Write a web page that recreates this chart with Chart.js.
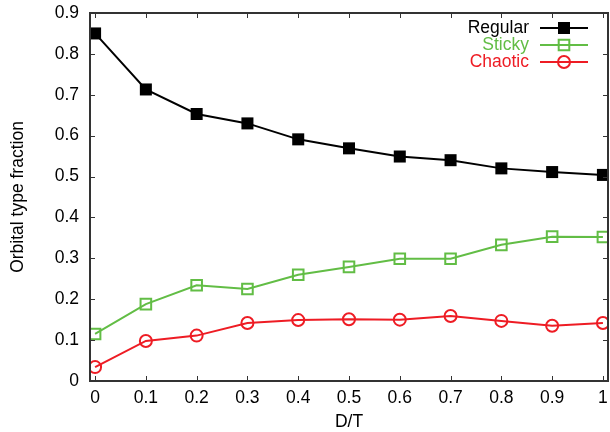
<!DOCTYPE html>
<html>
<head>
<meta charset="utf-8">
<script src="https://cdn.jsdelivr.net/npm/chart.js@4"></script>
<style>
  html, body { margin: 0; padding: 0; background: #fff; }
  #wrap { width: 610px; height: 432px; }
</style>
</head>
<body>
<div id="wrap"><canvas id="chart"></canvas></div>
<script>
// values
const dtValues = [0, 0.1, 0.2, 0.3, 0.4, 0.5, 0.6, 0.7, 0.8, 0.9, 1];
const regular = [0.850, 0.713, 0.653, 0.630, 0.591, 0.569, 0.549, 0.540, 0.520, 0.511, 0.504];
const sticky  = [0.115, 0.188, 0.234, 0.225, 0.260, 0.279, 0.299, 0.299, 0.333, 0.353, 0.352];
const chaotic = [0.034, 0.098, 0.111, 0.142, 0.149, 0.151, 0.150, 0.159, 0.147, 0.135, 0.142];
const xTicks = [0, 0.1, 0.2, 0.3, 0.4, 0.5, 0.6, 0.7, 0.8, 0.9, 1];
const yTicks = [0, 0.1, 0.2, 0.3, 0.4, 0.5, 0.6, 0.7, 0.8, 0.9];

const FONT = "'Liberation Sans', Arial, sans-serif";
const FSIZE = 17.5;
const frameColor = '#333333';

function toPoints(ys) {
  return dtValues.map((x, i) => ({ x: x, y: ys[i] }));
}

// drop the extra room chart.js keeps for edge tick labels
function noEdgePadding(s) {
  s.paddingTop = 0; s.paddingBottom = 0;
  s.paddingLeft = 0; s.paddingRight = 0;
}

// gnuplot style: inward ticks on all four sides + closed frame
const frameTicks = {
  id: 'frameTicks',
  afterDraw(chart) {
    const { ctx, chartArea: a, scales } = chart;
    const len = 5;
    ctx.save();
    ctx.strokeStyle = frameColor;
    ctx.lineWidth = 1;
    ctx.beginPath();
    xTicks.forEach(v => {
      const px = Math.round(scales.x.getPixelForValue(v)) + 0.5;
      ctx.moveTo(px, a.bottom); ctx.lineTo(px, a.bottom - len);
      ctx.moveTo(px, a.top); ctx.lineTo(px, a.top + len);
    });
    yTicks.forEach(v => {
      const py = Math.round(scales.y.getPixelForValue(v)) + 0.5;
      ctx.moveTo(a.left, py); ctx.lineTo(a.left + len, py);
      ctx.moveTo(a.right, py); ctx.lineTo(a.right - len, py);
    });
    ctx.stroke();
    ctx.lineWidth = 2;
    ctx.strokeRect(a.left, a.top, a.right - a.left, a.bottom - a.top);
    ctx.restore();
  }
};

// legend in the top right corner: right-aligned text, then line sample with marker
const keyBox = {
  id: 'keyBox',
  afterDraw(chart) {
    const ctx = chart.ctx;
    const textRight = 529;
    const lineStart = 540, lineEnd = 588;
    let y = 28;
    ctx.save();
    ctx.font = FSIZE + 'px ' + FONT;
    ctx.textAlign = 'right';
    ctx.textBaseline = 'middle';
    chart.data.datasets.forEach(ds => {
      ctx.fillStyle = ds.borderColor;
      ctx.fillText(ds.label, textRight, y);
      ctx.strokeStyle = ds.borderColor;
      ctx.lineWidth = 2;
      ctx.beginPath();
      ctx.moveTo(lineStart, y);
      ctx.lineTo(lineEnd, y);
      ctx.stroke();
      ctx.fillStyle = ds.pointBackgroundColor;
      Chart.helpers.drawPoint(ctx, {
        pointStyle: ds.pointStyle,
        radius: ds.pointRadius,
        borderWidth: ds.pointBorderWidth,
        rotation: 0
      }, (lineStart + lineEnd) / 2, y);
      y += 17;
    });
    ctx.restore();
  }
};

new Chart(document.getElementById('chart'), {
  type: 'line',
  data: {
    datasets: [
      {
        label: 'Regular',
        data: toPoints(regular),
        borderColor: '#000000',
        borderWidth: 2,
        pointStyle: 'rect',
        pointRadius: 8.5,
        pointBorderWidth: 0,
        pointBackgroundColor: '#000000',
        pointBorderColor: '#000000'
      },
      {
        label: 'Sticky',
        data: toPoints(sticky),
        borderColor: '#62bd45',
        borderWidth: 2,
        pointStyle: 'rect',
        pointRadius: 7.5,
        pointBorderWidth: 2,
        pointBackgroundColor: 'rgba(0,0,0,0)',
        pointBorderColor: '#62bd45'
      },
      {
        label: 'Chaotic',
        data: toPoints(chaotic),
        borderColor: '#ee1c24',
        borderWidth: 2,
        pointStyle: 'circle',
        pointRadius: 6,
        pointBorderWidth: 2,
        pointBackgroundColor: 'rgba(0,0,0,0)',
        pointBorderColor: '#ee1c24'
      }
    ]
  },
  options: {
    responsive: true,
    maintainAspectRatio: false,
    animation: false,
    layout: { autoPadding: false, padding: { top: 13, right: 2, left: 0, bottom: 0 } },
    plugins: {
      legend: { display: false },
      tooltip: { enabled: false }
    },
    scales: {
      x: {
        type: 'linear',
        min: -0.01,
        max: 1.01,
        afterBuildTicks: s => { s.ticks = xTicks.map(v => ({ value: v })); },
        afterFit: s => { s.height = 51; noEdgePadding(s); },
        grid: { display: false, drawTicks: false },
        border: { display: false },
        ticks: {
          color: '#000',
          font: { family: FONT, size: FSIZE },
          padding: 7,
          maxRotation: 0,
          autoSkip: false,
          callback: v => String(Math.round(v * 10) / 10)
        },
        title: {
          display: true,
          text: 'D/T',
          color: '#000',
          font: { family: FONT, size: FSIZE },
          padding: { top: 0, bottom: -1 }
        }
      },
      y: {
        min: 0,
        max: 0.9,
        afterBuildTicks: s => { s.ticks = yTicks.map(v => ({ value: v })); },
        afterFit: s => { s.width = 90; noEdgePadding(s); },
        grid: { display: false, drawTicks: false },
        border: { display: false },
        ticks: {
          color: '#000',
          font: { family: FONT, size: FSIZE },
          padding: 11,
          autoSkip: false,
          callback: v => String(Math.round(v * 10) / 10)
        },
        title: {
          display: true,
          text: 'Orbital type fraction',
          color: '#000',
          font: { family: FONT, size: FSIZE },
          padding: { top: 7.5, bottom: 0 }
        }
      }
    }
  },
  plugins: [frameTicks, keyBox]
});
</script>
</body>
</html>
